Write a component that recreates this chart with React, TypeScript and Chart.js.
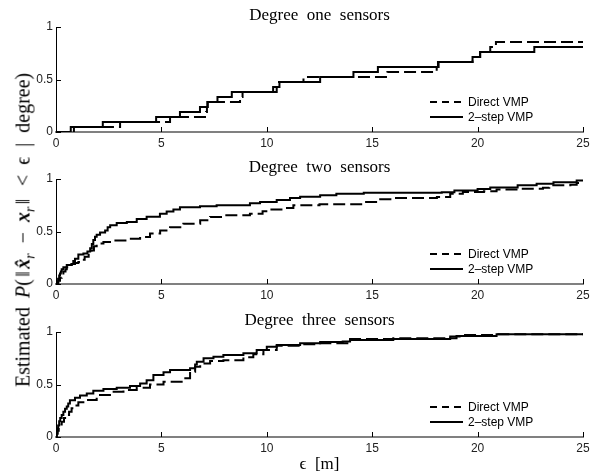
import React, { useEffect, useRef } from "react";
import { Chart, registerables } from "chart.js";

Chart.register(...registerables);

// ---------- data (x = epsilon [m], y = estimated probability) ----------
const plotTitles = ["Degree  one  sensors", "Degree  two  sensors", "Degree  three  sensors"];
const seriesLabels = ["Direct VMP", "2\u2013step VMP"];
const xTicks = [0, 5, 10, 15, 20, 25];
const yTicks = [0, 0.5, 1];

const deg1Direct: number[][] = [
  [0, 0], [0.85, 0.048], [3.04, 0.095], [5.41, 0.143], [7.12, 0.19], [7.16, 0.238], [7.2, 0.286],
  [8.73, 0.333], [8.85, 0.381], [10.3, 0.429], [10.5, 0.476], [11.74, 0.524], [15.72, 0.571],
  [18.06, 0.619], [18.12, 0.667], [19.76, 0.714], [20.12, 0.762], [20.6, 0.81], [20.87, 0.857], [25, 0.857],
];
const deg1TwoStep: number[][] = [
  [0, 0], [0.7, 0.048], [2.22, 0.095], [4.75, 0.143], [5.88, 0.19], [6.83, 0.238], [7.18, 0.286],
  [7.66, 0.333], [8.34, 0.381], [10.47, 0.429], [10.6, 0.476], [12.53, 0.524], [14.11, 0.571],
  [15.27, 0.619], [18.15, 0.667], [19.76, 0.714], [20.12, 0.762], [22.69, 0.81], [25, 0.81],
];

const deg2Direct: number[][] = [
  [0, 0], [0.06, 0.01], [0.11, 0.03], [0.19, 0.06], [0.27, 0.09], [0.35, 0.12], [0.45, 0.14], [0.51, 0.16],
  [0.62, 0.18], [0.74, 0.19], [0.9, 0.2], [1.06, 0.21], [1.2, 0.23], [1.36, 0.26], [1.55, 0.29], [1.69, 0.32],
  [1.8, 0.36], [1.93, 0.385], [2.25, 0.4], [2.72, 0.415],
  [3.35, 0.43], [3.99, 0.447], [4.46, 0.48], [4.94, 0.51], [5.41, 0.54], [6.04, 0.575], [6.84, 0.606],
  [7.31, 0.638], [7.94, 0.654], [9.2, 0.67], [9.8, 0.692], [10.16, 0.71], [10.79, 0.724], [11.26, 0.749],
  [12.5, 0.76], [14.66, 0.78], [15.38, 0.806], [16.0, 0.819], [18.07, 0.828], [18.7, 0.86], [19.3, 0.876],
  [20.3, 0.883], [20.9, 0.9], [21.9, 0.907], [23.1, 0.917], [23.4, 0.94], [24.4, 0.946], [24.7, 0.962], [25, 0.965],
];
const deg2TwoStep: number[][] = [
  [0, 0], [0.05, 0.02], [0.1, 0.05], [0.15, 0.08], [0.19, 0.1], [0.23, 0.12], [0.27, 0.14], [0.35, 0.16],
  [0.51, 0.18], [0.74, 0.19], [0.82, 0.22], [0.9, 0.24],
  [1.06, 0.28], [1.3, 0.29], [1.49, 0.31], [1.62, 0.34], [1.7, 0.38], [1.77, 0.42], [1.85, 0.45], [1.93, 0.47],
  [2.09, 0.49], [2.33, 0.51], [2.45, 0.54], [2.57, 0.56], [2.88, 0.58], [3.36, 0.59], [3.83, 0.62], [4.3, 0.64],
  [4.93, 0.67], [5.25, 0.69], [5.57, 0.71], [5.88, 0.73], [6.83, 0.74], [7.62, 0.75], [9.2, 0.77], [9.68, 0.78],
  [10.47, 0.8], [11.1, 0.82], [11.58, 0.83], [12.53, 0.845], [13.3, 0.86], [14.6, 0.87], [18.3, 0.875], [18.9, 0.89],
  [20.0, 0.905], [20.6, 0.92], [21.9, 0.94], [22.8, 0.955], [23.6, 0.97], [24.7, 0.985], [25, 0.99],
];

const deg3Direct: number[][] = [
  [0, 0], [0.04, 0.03], [0.08, 0.06], [0.13, 0.09], [0.2, 0.12], [0.27, 0.146], [0.38, 0.18], [0.51, 0.21],
  [0.62, 0.24], [0.74, 0.273], [0.9, 0.3], [1.06, 0.33], [1.46, 0.352],
  [1.93, 0.4], [2.56, 0.432], [3.2, 0.448], [3.83, 0.47], [4.46, 0.5], [5.1, 0.527], [6.04, 0.559], [6.36, 0.622],
  [6.6, 0.67], [6.84, 0.7], [7.31, 0.724], [7.94, 0.73], [8.89, 0.76], [9.36, 0.788], [9.84, 0.829], [10.47, 0.87],
  [11.58, 0.883], [12.53, 0.892], [13.95, 0.933], [16, 0.94], [18.7, 0.956], [19.3, 0.971], [20.9, 0.978], [25, 0.985],
];
const deg3TwoStep: number[][] = [
  [0, 0], [0.03, 0.04], [0.06, 0.08], [0.1, 0.11], [0.15, 0.15], [0.2, 0.18], [0.27, 0.21], [0.35, 0.24],
  [0.43, 0.27], [0.51, 0.29], [0.58, 0.32], [0.66, 0.35], [0.9, 0.375],
  [1.14, 0.395], [1.46, 0.415], [1.77, 0.44], [2.25, 0.457], [2.88, 0.47], [3.51, 0.486], [3.99, 0.51], [4.3, 0.54],
  [4.62, 0.59], [5.1, 0.616], [5.41, 0.638], [6.36, 0.654], [6.6, 0.69], [6.68, 0.717], [7.0, 0.749], [7.47, 0.765],
  [7.94, 0.78], [8.89, 0.797], [9.52, 0.829], [10.0, 0.86], [10.47, 0.876], [11.58, 0.892], [12.53, 0.905],
  [13.6, 0.91], [13.95, 0.924], [16.0, 0.933], [18.7, 0.94], [19.0, 0.962], [20.9, 0.978], [25, 0.985],
];

const plotSeries = [
  [deg1Direct, deg1TwoStep],
  [deg2Direct, deg2TwoStep],
  [deg3Direct, deg3TwoStep],
];

// ---------- styling ----------
const SANS = '"Liberation Sans", Arial, Helvetica, sans-serif';
const SERIF = '"Liberation Serif", "Times New Roman", "DejaVu Serif", serif';
const CURVE_DASH = [12, 5];
const LEGEND_DASH = [7, 5];

const inwardTicks = {
  id: "inwardTicks",
  afterDatasetsDraw(chart: any) {
    const { ctx, chartArea, scales } = chart;
    ctx.save();
    ctx.strokeStyle = "#000";
    ctx.lineWidth = 1;
    scales.x.ticks.forEach((t: any, i: number) => {
      if (t.value === 0) return;
      const px = Math.round(scales.x.getPixelForTick(i)) + 0.5;
      ctx.beginPath();
      ctx.moveTo(px, chartArea.bottom);
      ctx.lineTo(px, chartArea.bottom - 5);
      ctx.stroke();
    });
    scales.y.ticks.forEach((_t: any, i: number) => {
      const py = Math.round(scales.y.getPixelForTick(i)) + 0.5;
      ctx.beginPath();
      ctx.moveTo(chartArea.left, py);
      ctx.lineTo(chartArea.left + 5, py);
      ctx.stroke();
    });
    ctx.restore();
  },
};

const insideLegend = {
  id: "insideLegend",
  afterDatasetsDraw(chart: any) {
    const { ctx, chartArea } = chart;
    ctx.save();
    ctx.font = `12px ${SANS}`;
    ctx.textBaseline = "middle";
    ctx.textAlign = "left";
    chart.data.datasets.forEach((d: any, i: number) => {
      const y = chartArea.bottom - 30 + i * 15;
      ctx.setLineDash(d.borderDash && d.borderDash.length ? LEGEND_DASH : []);
      ctx.lineWidth = 2;
      ctx.strokeStyle = "#000";
      ctx.beginPath();
      ctx.moveTo(chartArea.right - 153, y);
      ctx.lineTo(chartArea.right - 120, y);
      ctx.stroke();
      ctx.setLineDash([]);
      ctx.fillStyle = "#000";
      ctx.fillText(d.label, chartArea.right - 115, y + 0.5);
    });
    ctx.restore();
  },
};

function makeConfig(idx: number): any {
  const isLast = idx === 2;
  const [direct, twoStep] = plotSeries[idx];
  const ds = (label: string, pts: number[][], dash: number[]) => ({
    label,
    data: pts.map(([x, y]) => ({ x, y })),
    borderColor: "#000",
    backgroundColor: "#000",
    borderWidth: 2,
    borderDash: dash,
    stepped: "before",
    pointRadius: 0,
    fill: false,
  });
  return {
    type: "line",
    data: {
      datasets: [ds(seriesLabels[0], direct, CURVE_DASH), ds(seriesLabels[1], twoStep, [])],
    },
    options: {
      animation: false,
      responsive: false,
      maintainAspectRatio: false,
      events: [],
      layout: { padding: { left: 0, right: 19, top: 0, bottom: 0 } },
      plugins: {
        legend: { display: false },
        tooltip: { enabled: false },
        title: {
          display: true,
          text: plotTitles[idx],
          fullSize: false,
          color: "#000",
          font: { family: SERIF, size: 17, weight: "normal", lineHeight: 1.2 },
          padding: { top: 5.3, bottom: 1.3 },
        },
      },
      scales: {
        x: {
          type: "linear",
          min: 0,
          max: 25,
          afterBuildTicks: (s: any) => {
            s.ticks = xTicks.map((v) => ({ value: v }));
          },
          ticks: {
            font: { family: SANS, size: 12 },
            color: "#222",
            padding: 4,
            maxRotation: 0,
            callback: (v: any) => String(v),
          },
          grid: { display: true, drawOnChartArea: false, drawTicks: false },
          border: { display: true, color: "#808080", width: 2 },
          afterFit: (s: any) => {
            s.height = isLast ? 38 : 20;
          },
          title: isLast
            ? {
                display: true,
                text: "\u03F5  [m]",
                color: "#000",
                font: { family: SERIF, size: 17, lineHeight: 1.2 },
                padding: { top: 0, bottom: 0 },
              }
            : { display: false },
        },
        y: {
          type: "linear",
          min: 0,
          max: 1,
          afterBuildTicks: (s: any) => {
            s.ticks = yTicks.map((v) => ({ value: v }));
          },
          ticks: {
            font: { family: SANS, size: 12 },
            color: "#222",
            padding: 3,
            callback: (v: any) => String(v),
          },
          grid: { display: true, drawOnChartArea: false, drawTicks: false },
          border: { display: true, color: "#000", width: 1 },
          afterFit: (s: any) => {
            s.width = 56;
          },
        },
      },
    },
    plugins: [inwardTicks, insideLegend],
  };
}

const CANVAS_TOPS = [0, 152, 305];
const CANVAS_HEIGHTS = [152, 152, 170];

const op = { margin: "0 0.5em" };
const bar = { margin: "0 0.12em" };
const sub = { fontSize: "0.7em" };

export default function App() {
  const r0 = useRef<HTMLCanvasElement>(null);
  const r1 = useRef<HTMLCanvasElement>(null);
  const r2 = useRef<HTMLCanvasElement>(null);
  const refs = [r0, r1, r2];

  useEffect(() => {
    const charts = refs.map((r, i) => new Chart(r.current as HTMLCanvasElement, makeConfig(i)));
    return () => charts.forEach((c) => c.destroy());
  }, []);

  return (
    <div style={{ position: "absolute", left: 0, top: 0, width: 602, height: 475, background: "#fff", overflow: "hidden" }}>
      {refs.map((r, i) => (
        <canvas
          key={i}
          ref={r}
          width={602}
          height={CANVAS_HEIGHTS[i]}
          style={{ position: "absolute", left: 0, top: CANVAS_TOPS[i], width: 602, height: CANVAS_HEIGHTS[i], display: "block" }}
        />
      ))}
      <div
        style={{
          position: "absolute",
          left: 25,
          top: 230,
          transform: "translate(-50%, -50%) rotate(-90deg)",
          whiteSpace: "nowrap",
          fontFamily: SERIF,
          fontSize: 20,
          lineHeight: 1,
          color: "#000",
        }}
      >
        Estimated <i style={{ marginLeft: "0.2em" }}>P</i>(
        <span style={bar}>‖</span>
        <b><i>x&#770;</i></b><sub style={sub}><i>r</i></sub>
        <span style={op}>−</span>
        <b><i>x</i></b><sub style={sub}><i>r</i></sub>
        <span style={bar}>‖</span>
        <span style={op}>&lt;</span>&#1013;<span style={op}>|</span>degree)
      </div>
    </div>
  );
}
